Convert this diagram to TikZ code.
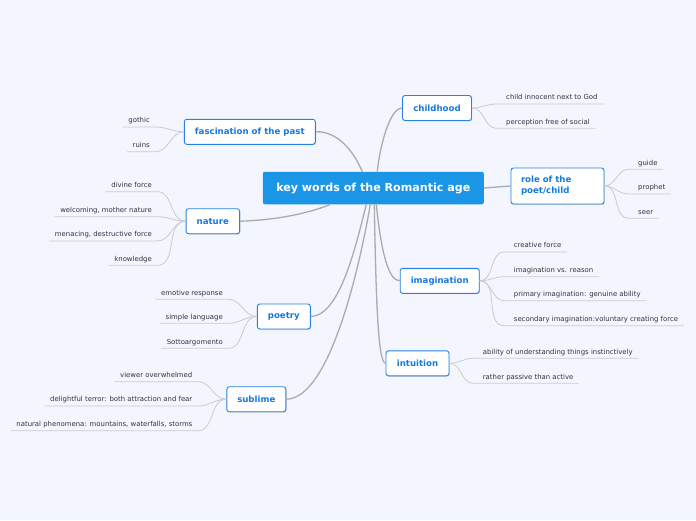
\documentclass[tikz,border=0pt]{standalone}
\usepackage{fontspec}
\setmainfont{DejaVu Sans}
\usetikzlibrary{shadows}
\definecolor{bg}{RGB}{243,246,254}
\definecolor{cfill}{RGB}{27,150,230}
\definecolor{tblue}{RGB}{22,121,222}
\definecolor{tborder}{RGB}{40,130,225}
\definecolor{leafc}{RGB}{51,51,51}
\definecolor{mainline}{RGB}{172,172,172}
\definecolor{leafline}{RGB}{200,203,212}
\begin{document}
\begin{tikzpicture}[x=1pt,y=-1pt,
 central/.style={fill=cfill, rounded corners=2pt, text=white, font=\fontsize{11.1}{13}\selectfont\bfseries, minimum width=221pt, minimum height=32.5pt, inner sep=0pt},
 topic/.style={draw=tborder, line width=0.9pt, fill=white, rounded corners=2.5pt, text=tblue, font=\fontsize{8.6}{11}\selectfont\bfseries, minimum height=25pt, inner sep=0pt, drop shadow={shadow xshift=0.7pt, shadow yshift=-0.9pt, opacity=0.3, fill=black!60}},
 leaf/.style={text=leafc, font=\fontsize{6.9}{8}\selectfont, inner xsep=5.5pt, inner ysep=2.5pt, text height=5.2pt, text depth=1.5pt},
 mline/.style={draw=mainline, line width=1.3pt},
 lline/.style={draw=leafline, line width=0.8pt},
]
\useasboundingbox (0,0) rectangle (696,520);
\fill[bg] (0,0) rectangle (696,520);

% central
\node[central] (c) at (373.3,188) {key words of the Romantic age};

% topics
\node[topic, minimum width=69pt] (ch) at (437,108) {childhood};
\node[topic, minimum width=131pt] (fa) at (249.8,131.8) {fascination of the past};
\node[topic, minimum height=36pt, text width=73pt, align=left, inner xsep=10pt] (ro) at (557.5,186) {role of the\\poet/child};
\node[topic, minimum width=53.5pt] (na) at (212.8,221.2) {nature};
\node[topic, minimum width=79pt] (im) at (439.7,280.8) {imagination};
\node[topic, minimum width=53pt] (po) at (283.8,316.5) {poetry};
\node[topic, minimum width=63pt] (in) at (417.5,363.3) {intuition};
\node[topic, minimum width=59pt] (su) at (256.3,399.2) {sublime};

% main connectors
\draw[mline] ([xshift=4pt]c.north) .. controls (380,145) and (390,108) .. (ch.west);
\draw[mline] (fa.east) .. controls (337,131) and (353,150) .. ([xshift=-11pt]c.north);
\draw[mline] (na.east) .. controls (280,220) and (312,212) .. ([xshift=-43pt]c.south);
\draw[mline] (c.east) -- (ro.west);
\draw[mline] ([xshift=3pt]c.south) .. controls (381,250) and (388,281) .. (im.west);
\draw[mline] ([xshift=1pt]c.south) .. controls (376,300) and (378,363) .. (in.west);
\draw[mline] (po.east) .. controls (340,316) and (356,245) .. ([xshift=-7pt]c.south);
\draw[mline] (su.east) .. controls (330,399) and (360,265) .. ([xshift=-3pt]c.south);

% leaves: childhood
\node[leaf, anchor=south west] (c1) at (500.5,104) {child innocent next to God};
\node[leaf, anchor=south west] (c2) at (500.5,128.3) {perception free of social};
% role
\node[leaf, anchor=south west] (r1) at (632.5,169.3) {guide};
\node[leaf, anchor=south west] (r2) at (632.5,194) {prophet};
\node[leaf, anchor=south west] (r3) at (632.5,218.3) {seer};
% imagination
\node[leaf, anchor=south west] (i1) at (508.2,252) {creative force};
\node[leaf, anchor=south west] (i2) at (508.2,276.7) {imagination vs. reason};
\node[leaf, anchor=south west] (i3) at (508.2,300.7) {primary imagination: genuine ability};
\node[leaf, anchor=south west] (i4) at (508.2,325.7) {secondary imagination:voluntary creating force};
% intuition
\node[leaf, anchor=south west] (t1) at (477.2,358.3) {ability of understanding things instinctively};
\node[leaf, anchor=south west] (t2) at (477.2,383.3) {rather passive than active};
% fascination
\node[leaf, anchor=south east] (f1) at (155.5,127) {gothic};
\node[leaf, anchor=south east] (f2) at (155.5,151.7) {ruins};
% nature
\node[leaf, anchor=south east] (n1) at (157.5,191.7) {divine force};
\node[leaf, anchor=south east] (n2) at (157.5,216.7) {welcoming, mother nature};
\node[leaf, anchor=south east] (n3) at (157.5,241) {menacing, destructive force};
\node[leaf, anchor=south east] (n4) at (157.5,265.3) {knowledge};
% poetry
\node[leaf, anchor=south east] (p1) at (228.5,299.3) {emotive response};
\node[leaf, anchor=south east] (p2) at (228.5,323.3) {simple language};
\node[leaf, anchor=south east] (p3) at (228.5,348.3) {Sottoargomento};
% sublime
\node[leaf, anchor=south east] (s1) at (198,381.7) {viewer overwhelmed};
\node[leaf, anchor=south east] (s2) at (198,406) {delightful terror: both attraction and fear};
\node[leaf, anchor=south east] (s3) at (198,430.7) {natural phenomena: mountains, waterfalls, storms};

% leaf connectors (right side)
\foreach \t/\l in {ch/c1,ch/c2,ro/r1,ro/r2,ro/r3,im/i1,im/i2,im/i3,im/i4,in/t1,in/t2}
  \draw[lline] (\t.east) to[out=0,in=180] ([xshift=-4pt]\l.south west) -- (\l.south east);
% leaf connectors (left side)
\foreach \t/\l in {fa/f1,fa/f2,na/n1,na/n2,na/n3,na/n4,po/p1,po/p2,po/p3,su/s1,su/s2,su/s3}
  \draw[lline] (\t.west) to[out=180,in=0] (\l.south east) -- (\l.south west);
\end{tikzpicture}
\end{document}
